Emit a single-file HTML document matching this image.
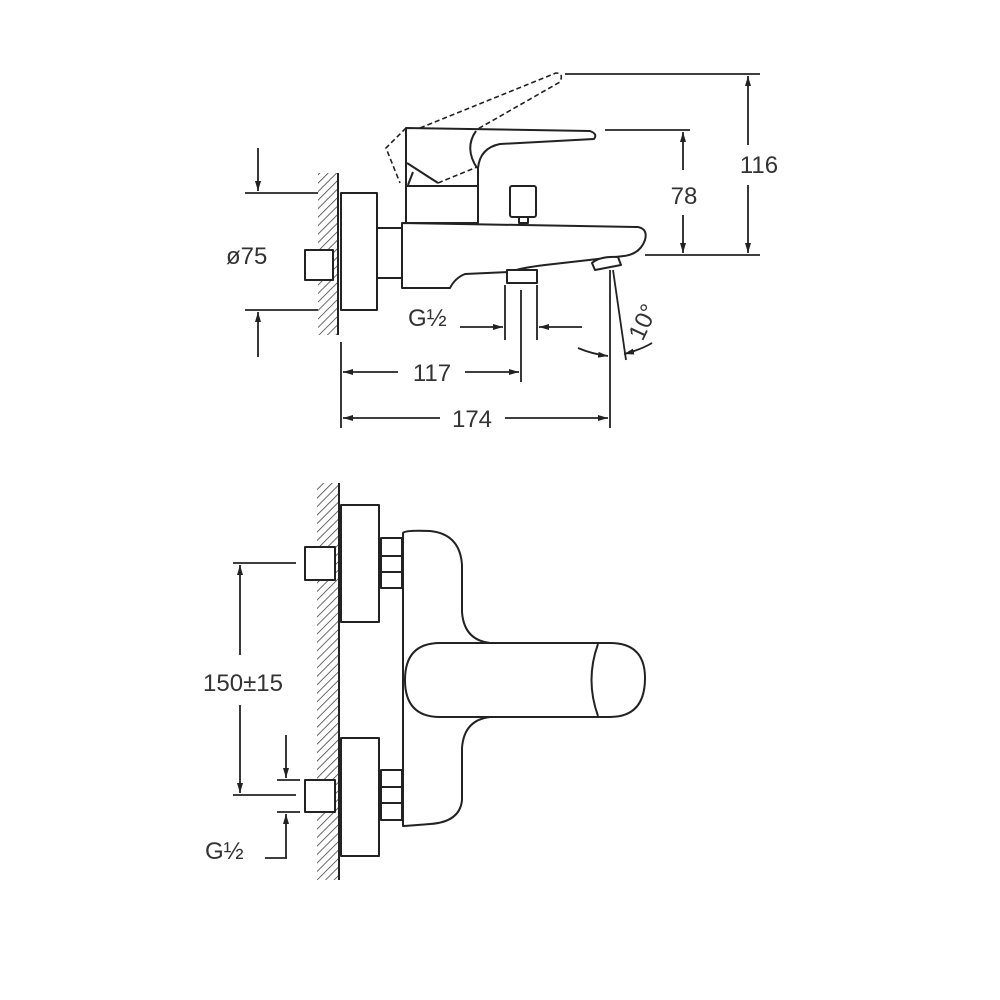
<!DOCTYPE html>
<html><head><meta charset="utf-8"><style>
html,body{margin:0;padding:0;background:#fff;}
svg{display:block}
text{font-family:"Liberation Sans",sans-serif;fill:#333;}
</style></head><body>
<svg width="1000" height="1000" viewBox="0 0 1000 1000" xmlns="http://www.w3.org/2000/svg">
<defs>
<pattern id="h" width="6" height="6" patternUnits="userSpaceOnUse" patternTransform="rotate(45)">
<line x1="0" y1="0" x2="0" y2="6" stroke="#444" stroke-width="1.6"/>
</pattern>
<marker id="a" viewBox="0 0 10 6" refX="10" refY="3" markerWidth="10" markerHeight="6" orient="auto" markerUnits="userSpaceOnUse">
<path d="M0,0 L10,3 L0,6 z" fill="#222"/>
</marker>
</defs>
<g stroke="#222" stroke-width="2" fill="none" stroke-linejoin="round">
<!-- TOP VIEW -->
<rect x="318" y="173" width="20" height="162" fill="url(#h)" stroke="none"/>
<line x1="338" y1="173" x2="338" y2="335"/>
<rect x="341" y="193" width="36" height="117" fill="#fff"/>
<rect x="305" y="250" width="28" height="30" fill="#fff"/>
<rect x="377" y="228" width="25" height="50"/>
<path d="M402,223 L638,227 Q648,229 645,240 Q640,254 624,256 L545,265 Q520,268 510,272 L465,274 Q455,278 450,288 L402,288 Z" fill="#fff"/>
<rect x="507" y="270" width="30" height="13" fill="#fff"/>
<path d="M592,263 Q600,256 618,257 L621,265 L595,270 Z" fill="#fff"/>
<rect x="406" y="186" width="72" height="37"/>
<rect x="510" y="186" width="26" height="31" rx="2"/>
<rect x="519" y="217" width="9" height="6"/>
<path d="M406,186 L406,128 L590,131 Q598,134 594,139 L500,144 Q480,148 478,168 L478,186"/>
<path d="M476,131 Q464,148 477,168"/>
<path d="M407,163 L438,183"/>
<path d="M413,172 L408,185"/>
<path d="M420,128 L556,73 Q564,73 560,82 L476,130 M438,183 L477,167 M406,128 L386,148 L400,183" stroke-dasharray="5,3" stroke-width="1.6"/>
<g stroke-width="1.8">
<line x1="565" y1="74" x2="760" y2="74"/>
<line x1="645" y1="255" x2="760" y2="255"/>
<line x1="605" y1="130" x2="690" y2="130"/>
<line x1="748" y1="145" x2="748" y2="76" marker-end="url(#a)"/>
<line x1="748" y1="185" x2="748" y2="253" marker-end="url(#a)"/>
<line x1="683" y1="170" x2="683" y2="132" marker-end="url(#a)"/>
<line x1="683" y1="215" x2="683" y2="253" marker-end="url(#a)"/>
<line x1="245" y1="193" x2="318" y2="193"/>
<line x1="245" y1="310" x2="318" y2="310"/>
<line x1="258" y1="148" x2="258" y2="191" marker-end="url(#a)"/>
<line x1="258" y1="357" x2="258" y2="312" marker-end="url(#a)"/>
<line x1="505" y1="285" x2="505" y2="340"/>
<line x1="537" y1="285" x2="537" y2="340"/>
<line x1="460" y1="327" x2="503" y2="327" marker-end="url(#a)"/>
<line x1="582" y1="327" x2="539" y2="327" marker-end="url(#a)"/>
<line x1="341" y1="342" x2="341" y2="428"/>
<line x1="521" y1="290" x2="521" y2="382"/>
<line x1="610" y1="270" x2="610" y2="428"/>
<line x1="398" y1="372" x2="343" y2="372" marker-end="url(#a)"/>
<line x1="465" y1="372" x2="519" y2="372" marker-end="url(#a)"/>
<line x1="440" y1="418" x2="343" y2="418" marker-end="url(#a)"/>
<line x1="505" y1="418" x2="608" y2="418" marker-end="url(#a)"/>
<line x1="613" y1="270" x2="626" y2="360"/>
<path d="M578,348 Q592,354 608,356" marker-end="url(#a)"/>
<path d="M652,343 Q640,350 624,354" marker-end="url(#a)"/>
</g>

<!-- BOTTOM VIEW -->
<rect x="317" y="483" width="21" height="397" fill="url(#h)" stroke="none"/>
<line x1="339" y1="483" x2="339" y2="880"/>
<rect x="341" y="505" width="38" height="117" fill="#fff"/>
<rect x="341" y="738" width="38" height="118" fill="#fff"/>
<rect x="305" y="547" width="30" height="33" fill="#fff"/>
<rect x="305" y="780" width="30" height="32" fill="#fff"/>
<path d="M381,538 H402 V588 H381 Z M381,556 H402 M381,572 H402"/>
<path d="M381,770 H402 V820 H381 Z M381,787 H402 M381,803 H402"/>
<path d="M403,533 Q405,530 430,531 Q460,534 462,565 L462,612 Q464,640 490,643 L490,717 Q464,720 462,748 L462,800 Q460,822 430,824 Q405,826 403,826 Z" fill="#fff"/>
<path d="M440,643 L610,643 Q645,643 645,678 Q645,717 610,717 L440,717 Q405,717 405,680 Q405,643 440,643 Z" fill="#fff"/>
<path d="M598,644 Q585,680 598,716"/>
<g stroke-width="1.8">
<line x1="233" y1="563" x2="296" y2="563"/>
<line x1="233" y1="795" x2="296" y2="795"/>
<line x1="240" y1="655" x2="240" y2="565" marker-end="url(#a)"/>
<line x1="240" y1="705" x2="240" y2="793" marker-end="url(#a)"/>
<line x1="277" y1="780" x2="300" y2="780"/>
<line x1="277" y1="812" x2="300" y2="812"/>
<line x1="286" y1="735" x2="286" y2="778" marker-end="url(#a)"/>
<line x1="286" y1="858" x2="286" y2="814" marker-end="url(#a)"/>
<line x1="265" y1="858" x2="287" y2="858"/>
</g>
</g>
<g font-size="24">
<text x="759" y="173" text-anchor="middle">116</text>
<text x="684" y="204" text-anchor="middle">78</text>
<text x="226" y="264">ø75</text>
<text x="408" y="326">G½</text>
<text x="432" y="381" text-anchor="middle">117</text>
<text x="472" y="427" text-anchor="middle">174</text>
<text x="643" y="330" transform="rotate(-65 643 322)" text-anchor="middle">10°</text>
<text x="243" y="691" text-anchor="middle">150±15</text>
<text x="205" y="859">G½</text>
</g>
</svg>
</body></html>
